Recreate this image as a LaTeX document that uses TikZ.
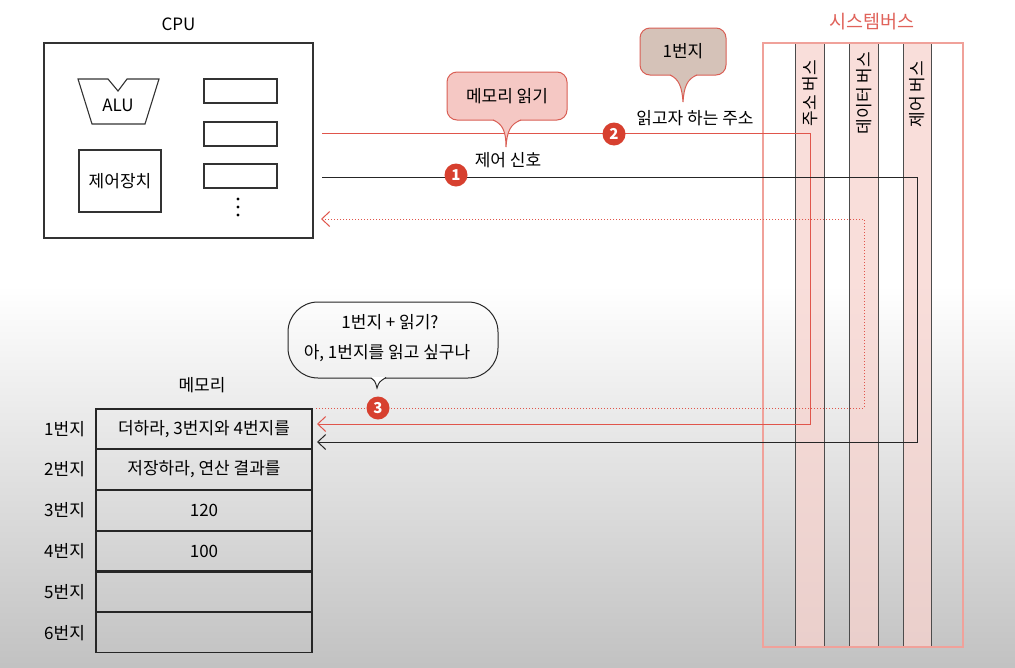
\documentclass[tikz,border=0pt]{standalone}
\usepackage{fontspec}
\setmainfont{Noto Sans CJK KR}
\usepackage{xcolor}
\usepackage{tikz}
\usetikzlibrary{positioning, arrows.meta}

\definecolor{busred}{HTML}{E0554B}
\definecolor{buspink}{HTML}{F7D3CE}
\definecolor{busframe}{HTML}{F0A19A}
\definecolor{badgered}{HTML}{D7402F}
\definecolor{callfill}{HTML}{F5C8C4}
\definecolor{calldraw}{HTML}{D95F55}
\definecolor{tanfill}{HTML}{D5C2B8}
\definecolor{titlered}{HTML}{E0625A}

\tikzstyle{box} = [rectangle, draw=black!80, line width=1.1pt, inner sep=0pt]
\tikzstyle{reg} = [box, minimum width=73pt, minimum height=24pt]
\tikzstyle{memcell} = [rectangle, draw=black!85, line width=1.1pt, minimum width=216pt, minimum height=39.67pt, inner sep=0pt]
\tikzstyle{busstrip} = [rectangle, fill=buspink, fill opacity=0.75, draw=none, minimum width=28pt, minimum height=604pt, inner sep=0pt]
\tikzstyle{busedge} = [draw=black!70, line width=0.9pt]
\tikzstyle{buslabel} = [rotate=90]
\tikzstyle{badge} = [circle, fill=badgered, text=white, minimum size=23pt, inner sep=0pt, font=\fontsize{15}{15}\selectfont\bfseries]
\tikzstyle{callpink} = [rectangle, rounded corners=10pt, fill=callfill, draw=calldraw, line width=1pt, minimum width=120pt, minimum height=48pt]
\tikzstyle{calltan} = [callpink, fill=tanfill, minimum width=86pt, minimum height=47pt]
\tikzstyle{bubble} = [rectangle, rounded corners=30pt, draw=black!85, line width=1pt, minimum width=210pt, minimum height=76pt]
\tikzstyle{arrow} = [->, >={Straight Barb[length=8pt,width=15pt]}]
\tikzstyle{redline} = [arrow, draw=busred, line width=1pt]
\tikzstyle{blackline} = [arrow, draw=black!85, line width=1pt]
\tikzstyle{dataline} = [arrow, draw=busred, line width=1pt, dash pattern=on 1.2pt off 1.8pt]

\begin{document}
\begin{tikzpicture}[x=1pt, y=-1pt, font=\fontsize{17}{20}\selectfont]

    % Background
    \useasboundingbox (0,0) rectangle (1015,667);
    \fill[white] (0,0) rectangle (1015,667);
    \shade[top color=white, bottom color=black!24] (0,285) rectangle (1015,667);

    % CPU
    \node (cpu) [box, minimum width=269pt, minimum height=195pt] at (178.5,140.5) {};
    \node (cpulbl) [above=8pt of cpu] {CPU};
    \draw[line width=1.1pt, draw=black!80] (78,79) -- (108,79) -- (118,91) -- (127,79) -- (159,79) -- (145,124) -- (92,124) -- cycle;
    \node (alu) at (118,105) {ALU};
    \node (ctrlunit) [box, minimum width=82pt, minimum height=62pt] at (120,181) {제어장치};
    \node (reg1) [reg] at (240.5,91) {};
    \node (reg2) [reg] at (240.5,134) {};
    \node (reg3) [reg] at (240.5,176) {};
    \fill (238,199) circle (1.6) (238,207) circle (1.6) (238,215) circle (1.6);

    % System bus
    \node (addrbus) [busstrip] at (810,345) {};
    \node (databus) [busstrip] at (864,345) {};
    \node (ctrlbus) [busstrip] at (917.5,345) {};
    \draw[busedge] (addrbus.north west) -- (addrbus.south west) (addrbus.north east) -- (addrbus.south east);
    \draw[busedge] (databus.north west) -- (databus.south west) (databus.north east) -- (databus.south east);
    \draw[busedge] (ctrlbus.north west) -- (ctrlbus.south west) (ctrlbus.north east) -- (ctrlbus.south east);
    \draw[busframe, line width=1.1pt] (763,43) rectangle (963,647);
    \node (bustitle) [text=titlered, font=\fontsize{18.5}{20}\selectfont] at (872,22) {시스템버스};
    \node (addrlbl) [buslabel] at (810,93) {주소 버스};
    \node (datalbl) [buslabel] at (864,93) {데이터 버스};
    \node (ctrllbl) [buslabel] at (917.5,94) {제어 버스};

    % Memory
    \node (memlbl) at (202,385) {메모리};
    \node (row1) [memcell] at (204,428.8) {더하라, 3번지와 4번지를};
    \node (row2) [memcell, below=0pt of row1] {저장하라, 연산 결과를};
    \node (row3) [memcell, below=0pt of row2] {120};
    \node (row4) [memcell, below=0pt of row3] {100};
    \node (row5) [memcell, below=0pt of row4] {};
    \node (row6) [memcell, below=0pt of row5] {};
    \node (adr1) [left=7pt of row1] {1번지};
    \node (adr2) [left=7pt of row2] {2번지};
    \node (adr3) [left=7pt of row3] {3번지};
    \node (adr4) [left=7pt of row4] {4번지};
    \node (adr5) [left=7pt of row5] {5번지};
    \node (adr6) [left=7pt of row6] {6번지};

    % Line ends
    \coordinate (cpuaddr) at (322,133);
    \coordinate (cpuctrl) at (322,177);
    \coordinate (cpudata) at (321,219);
    \coordinate (memaddr) at (317,424);
    \coordinate (memctrl) at (317,442);
    \coordinate (memdata) at (316,408);

    % Signals
    \draw [redline] (cpuaddr) -| (addrbus.center |- memaddr) -- (memaddr);
    \draw [blackline] (cpuctrl) -| (ctrlbus.center |- memctrl) -- (memctrl);
    \draw [dataline] (memdata) -| (databus.center |- cpudata) -- (cpudata);

    % Callouts
    \node (readcall) [callpink] at (507,96) {메모리 읽기};
    \fill[callfill] (493,119) .. controls (503,124) and (506,132) .. (506,147) .. controls (507,132) and (510,124) .. (521,119) -- cycle;
    \draw[calldraw, line width=1pt] (493,120) .. controls (503,124) and (506,132) .. (506,147) .. controls (507,132) and (510,124) .. (521,120);
    \node (ctrlsig) at (508,160) {제어 신호};

    \node (addrcall) [calltan] at (683,51.5) {1번지};
    \fill[tanfill] (670,74) .. controls (679,79) and (682,87) .. (683,102) .. controls (684,87) and (687,79) .. (697,74) -- cycle;
    \draw[calldraw, line width=1pt] (670,75) .. controls (679,79) and (682,87) .. (683,102) .. controls (684,87) and (687,79) .. (697,75);
    \node (addrtxt) at (695,118) {읽고자 하는 주소};

    \node (think) [bubble] at (393,340) {};
    \fill[white] (371,377) -- (377,388) -- (386,377) -- cycle;
    \draw[black!85, line width=1pt] (371,378) .. controls (375,381) .. (377,388) .. controls (379,382) .. (386,377.5);
    \node (think1) at (390,322) {1번지 + 읽기?};
    \node (think2) at (387,353) {아, 1번지를 읽고 싶구나};

    % Badges
    \node (step1) [badge] at (456,175) {1};
    \node (step2) [badge] at (614,134) {2};
    \node (step3) [badge] at (378,408) {3};

\end{tikzpicture}
\end{document}
